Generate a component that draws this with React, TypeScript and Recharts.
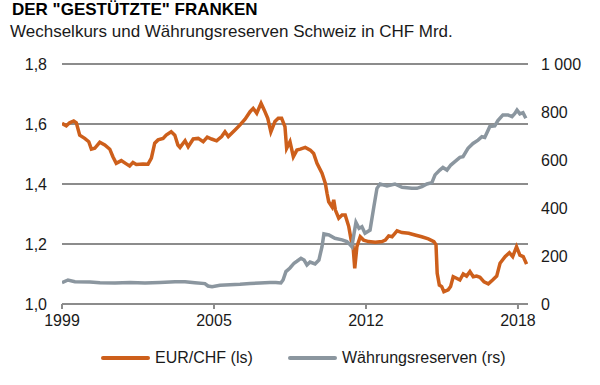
import React from 'react'
import { LineChart, Line, XAxis, YAxis, CartesianGrid } from 'recharts'

// EUR/CHF (year as decimal)
const chfYears = [
  1999.0, 1999.18, 1999.32, 1999.49, 1999.6, 1999.74, 1999.95, 2000.12, 2000.23, 2000.37, 2000.58, 2000.79,
  2001.0, 2001.13, 2001.27, 2001.48, 2001.69, 2001.83, 2001.97, 2002.11, 2002.39, 2002.6, 2002.74, 2002.88,
  2003.02, 2003.23, 2003.36, 2003.57, 2003.72, 2003.85, 2003.94, 2004.15, 2004.28, 2004.49, 2004.7, 2004.91,
  2005.08, 2005.26, 2005.47, 2005.68, 2005.82, 2005.96, 2006.24, 2006.45, 2006.66, 2006.87, 2007.0, 2007.15,
  2007.33, 2007.46, 2007.61, 2007.74, 2007.91, 2008.05, 2008.19, 2008.33, 2008.4, 2008.54, 2008.68, 2008.83,
  2008.97, 2009.18, 2009.39, 2009.53, 2009.67, 2009.88, 2010.02, 2010.09, 2010.16, 2010.3, 2010.37, 2010.44,
  2010.58, 2010.72, 2010.85, 2011.0, 2011.1, 2011.18, 2011.25, 2011.34, 2011.48, 2011.62, 2011.83, 2012.11,
  2012.39, 2012.53, 2012.67, 2012.81, 2013.02, 2013.23, 2013.51, 2013.77, 2014.05, 2014.33, 2014.56, 2014.65,
  2014.7, 2014.79, 2014.89, 2014.98, 2015.16, 2015.26, 2015.37, 2015.51, 2015.65, 2015.79, 2015.93, 2016.07,
  2016.21, 2016.35, 2016.49, 2016.66, 2016.84, 2017.02, 2017.19, 2017.33, 2017.54, 2017.72, 2017.86, 2018.02,
  2018.16, 2018.3, 2018.44,
]
const chfValues = [
  1.602, 1.594, 1.604, 1.61, 1.604, 1.563, 1.552, 1.541, 1.516, 1.519, 1.539, 1.53,
  1.516, 1.491, 1.469, 1.478, 1.467, 1.46, 1.472, 1.465, 1.467, 1.466, 1.486, 1.536,
  1.547, 1.552, 1.563, 1.574, 1.563, 1.53, 1.522, 1.544, 1.524, 1.55, 1.552, 1.541,
  1.556, 1.55, 1.544, 1.558, 1.574, 1.558, 1.58, 1.597, 1.616, 1.641, 1.652, 1.636,
  1.669, 1.647, 1.619, 1.574, 1.608, 1.619, 1.619, 1.591, 1.519, 1.541, 1.491, 1.513,
  1.516, 1.522, 1.513, 1.502, 1.469, 1.436, 1.402, 1.369, 1.341, 1.324, 1.347, 1.313,
  1.286, 1.297, 1.297, 1.258, 1.213, 1.191, 1.119, 1.191, 1.224, 1.213, 1.208, 1.206,
  1.208, 1.213, 1.227, 1.224, 1.244, 1.238, 1.236, 1.23, 1.224, 1.217, 1.208, 1.197,
  1.102, 1.063, 1.058, 1.041, 1.047, 1.058, 1.091, 1.086, 1.08, 1.1, 1.093, 1.108,
  1.091, 1.093, 1.089, 1.074, 1.067, 1.08, 1.093, 1.136, 1.158, 1.171, 1.158, 1.191,
  1.163, 1.158, 1.133,
]

// Währungsreserven in CHF Mrd.
const resYears = [
  1999.0, 1999.25, 1999.54, 2000.17, 2000.59, 2001.22, 2001.85, 2002.47, 2003.1, 2003.73, 2004.15, 2004.56,
  2004.98, 2005.11, 2005.28, 2005.61, 2006.03, 2006.45, 2006.87, 2007.28, 2007.7, 2007.95, 2008.16, 2008.25,
  2008.37, 2008.54, 2008.71, 2008.83, 2009.0, 2009.13, 2009.25, 2009.38, 2009.59, 2009.75, 2009.88, 2009.96,
  2010.17, 2010.42, 2010.72, 2010.92, 2011.05, 2011.13, 2011.22, 2011.3, 2011.43, 2011.55, 2011.68, 2011.89,
  2012.05, 2012.18, 2012.31, 2012.6, 2012.93, 2013.23, 2013.64, 2013.85, 2014.06, 2014.27, 2014.48, 2014.61,
  2014.81, 2014.94, 2015.11, 2015.27, 2015.44, 2015.65, 2015.78, 2015.99, 2016.2, 2016.41, 2016.57, 2016.69,
  2016.9, 2017.11, 2017.24, 2017.45, 2017.66, 2017.83, 2017.95, 2018.04, 2018.16, 2018.29, 2018.41,
]
const resValues = [
  89, 100, 93, 92, 89, 88, 90, 87, 90, 93, 93, 89,
  85, 75, 72, 78, 80, 82, 85, 88, 90, 90, 88, 100,
  135, 150, 170, 178, 190, 183, 163, 175, 167, 183, 239, 292,
  288, 274, 267, 260, 248, 239, 294, 340, 315, 322, 295, 308,
  405, 482, 500, 492, 500, 486, 482, 482, 489, 500, 506, 538,
  558, 569, 558, 579, 593, 611, 614, 649, 669, 683, 697, 694,
  739, 742, 764, 788, 788, 781, 794, 808, 792, 797, 774,
]

const leftTicks = [1.0, 1.2, 1.4, 1.6, 1.8]
const rightTicks = [0, 200, 400, 600, 800, 1000]
// evenly spaced axis ticks, labelled with the rounded year
const xTicks = [1999, 2005.36, 2011.72, 2018.08]

const series = [
  { name: 'EUR/CHF (ls)', color: '#cd5f1b' },
  { name: 'Währungsreserven (rs)', color: '#8b969f' },
]

const chfData = chfYears.map((year, i) => ({ year, value: chfValues[i] }))
const resData = resYears.map((year, i) => ({ year, value: resValues[i] }))

const FONT = '"Liberation Sans", Arial, sans-serif'
const GRID = '#8c8c8c'
const tickStyle = { fill: '#1a1a1a', fontSize: 16, fontFamily: FONT }

export default function App() {
  return (
    <div style={{ position: 'absolute', left: 0, top: 0, width: 600, height: 385, background: '#fff', fontFamily: FONT }}>
      <div style={{ position: 'absolute', left: 12, top: 0, fontSize: 17, fontWeight: 'bold', color: '#000', whiteSpace: 'nowrap' }}>
        DER "GESTÜTZTE" FRANKEN
      </div>
      <div style={{ position: 'absolute', left: 10, top: 22, fontSize: 17, color: '#1a1a1a', whiteSpace: 'nowrap' }}>
        Wechselkurs und Währungsreserven Schweiz in CHF Mrd.
      </div>
      <LineChart width={600} height={385} margin={{ top: 64, right: 0, bottom: 51, left: 0 }} style={{ position: 'absolute', left: 0, top: 0 }}>
        <CartesianGrid yAxisId="left" vertical={false} stroke={GRID} strokeWidth={2} />
        <XAxis
          dataKey="year"
          type="number"
          domain={[1999, 2018.5]}
          ticks={xTicks}
          tickFormatter={(v: number) => String(Math.round(v))}
          height={30}
          axisLine={{ stroke: GRID, strokeWidth: 2 }}
          tickLine={{ stroke: GRID, strokeWidth: 2 }}
          tickSize={5}
          tickMargin={6}
          tick={tickStyle}
          allowDataOverflow
        />
        <YAxis
          yAxisId="left"
          domain={[1.0, 1.8]}
          ticks={leftTicks}
          tickFormatter={(v: number) => v.toFixed(1).replace('.', ',')}
          width={62}
          axisLine={false}
          tickLine={false}
          tickSize={0}
          tickMargin={15}
          tick={tickStyle}
        />
        <YAxis
          yAxisId="right"
          orientation="right"
          domain={[0, 1000]}
          ticks={rightTicks}
          tickFormatter={(v: number) => (v >= 1000 ? '1 000' : String(v))}
          width={72}
          axisLine={false}
          tickLine={false}
          tickSize={0}
          tickMargin={13}
          tick={{ ...tickStyle, textAnchor: 'start' }}
        />
        <Line
          yAxisId="left"
          data={chfData}
          dataKey="value"
          name={series[0].name}
          type="linear"
          stroke={series[0].color}
          strokeWidth={3.5}
          dot={false}
          isAnimationActive={false}
        />
        <Line
          yAxisId="right"
          data={resData}
          dataKey="value"
          name={series[1].name}
          type="linear"
          stroke={series[1].color}
          strokeWidth={3.5}
          dot={false}
          isAnimationActive={false}
        />
      </LineChart>
      <div style={{ position: 'absolute', left: 0, top: 346, width: 600, height: 24, fontSize: 16, color: '#1a1a1a' }}>
        {series.map((s, i) => (
          <div key={s.name} style={{ position: 'absolute', left: i === 0 ? 101 : 288, top: 0, display: 'flex', alignItems: 'center', height: 24 }}>
            <span style={{ display: 'inline-block', width: 49, height: 4, borderRadius: 2, background: s.color, marginRight: 5 }} />
            <span>{s.name}</span>
          </div>
        ))}
      </div>
    </div>
  )
}
